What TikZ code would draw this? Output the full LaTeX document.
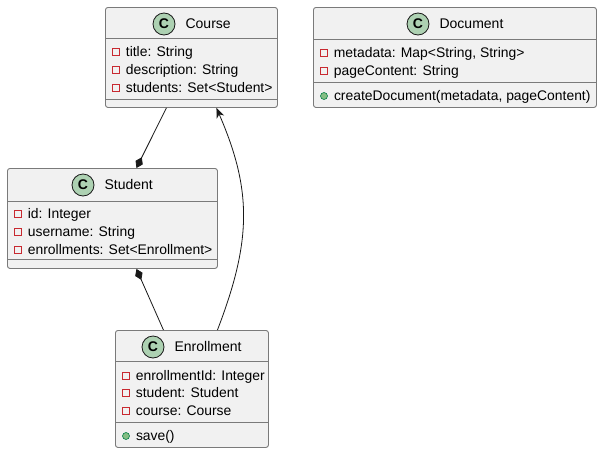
\documentclass[tikz,border=0pt]{standalone}
\usepackage{fontspec}
\setmainfont{Liberation Sans}
\usetikzlibrary{positioning,arrows.meta}
\definecolor{classbg}{HTML}{F1F1F1}
\definecolor{classline}{HTML}{7A7A7A}
\definecolor{spotfill}{HTML}{ADD1B2}
\definecolor{privred}{HTML}{C82930}
\definecolor{pubfill}{HTML}{84BE84}
\definecolor{publine}{HTML}{038048}
\definecolor{linkcol}{HTML}{181818}

\begin{document}
\begin{tikzpicture}[x=1pt, y=-1pt,
            classbox/.style={rectangle, draw=classline, fill=classbg, line width=0.9pt, rounded corners=2.5pt, anchor=north west, inner sep=0pt},
            sepline/.style={draw=classline, line width=0.9pt},
            spot/.style={circle, draw=linkcol, fill=spotfill, line width=0.8pt, minimum size=22pt, inner sep=0pt, font=\fontsize{14}{16}\selectfont\bfseries},
            classname/.style={right=10pt of #1, inner sep=0pt, text height=11pt, text depth=2pt, font=\fontsize{14}{16}\selectfont},
            priv/.style={rectangle, draw=privred, line width=0.9pt, minimum size=6.5pt, inner sep=0pt},
            pub/.style={circle, draw=publine, fill=pubfill, line width=0.6pt, minimum size=7pt, inner sep=0pt},
            attr/.style={right=6pt of #1, inner sep=0pt, text height=11pt, text depth=2pt, font=\fontsize{13.9}{16}\selectfont},
            link/.style={draw=linkcol, line width=0.8pt},
        ]
        \useasboundingbox (0,0) rectangle (602,453);

        % Course
        \node[classbox, minimum width=172pt, minimum height=100pt] (course) at (105,7) {};
        \draw[sepline] (105,38) -- (277,38);
        \draw[sepline] (105,99) -- (277,99);
        \node[spot] (coursespot) at (164,24) {C};
        \node[classname=coursespot] (coursename) {Course};
        \node[priv] (ctitleicon) at (116,52) {};
        \node[attr=ctitleicon] (ctitle) {title: String};
        \node[priv] (cdescicon) at (116,70) {};
        \node[attr=cdescicon] (cdesc) {description: String};
        \node[priv] (cstudicon) at (116,88) {};
        \node[attr=cstudicon] (cstud) {students: Set<Student>};

        % Document
        \node[classbox, minimum width=283pt, minimum height=100pt] (document) at (313,7) {};
        \draw[sepline] (313,39) -- (596,39);
        \draw[sepline] (313,82) -- (596,82);
        \node[spot] (docspot) at (418,24) {C};
        \node[classname=docspot] (docname) {Document};
        \node[priv] (dmetaicon) at (324,53) {};
        \node[attr=dmetaicon] (dmeta) {metadata: Map<String, String>};
        \node[priv] (dpageicon) at (324,71) {};
        \node[attr=dpageicon] (dpage) {pageContent: String};
        \node[pub] (dcreateicon) at (324,96) {};
        \node[attr=dcreateicon] (dcreate) {createDocument(metadata, pageContent)};

        % Student
        \node[classbox, minimum width=210pt, minimum height=100pt] (student) at (7,168) {};
        \draw[sepline] (7,201) -- (217,201);
        \draw[sepline] (7,259) -- (217,259);
        \node[spot] (studspot) at (83,185) {C};
        \node[classname=studspot] (studname) {Student};
        \node[priv] (sidicon) at (18,214) {};
        \node[attr=sidicon] (sid) {id: Integer};
        \node[priv] (suseicon) at (18,232) {};
        \node[attr=suseicon] (suse) {username: String};
        \node[priv] (senricon) at (18,250) {};
        \node[attr=senricon] (senr) {enrollments: Set<Enrollment>};

        % Enrollment
        \node[classbox, minimum width=153pt, minimum height=117pt] (enrollment) at (115,330) {};
        \draw[sepline] (115,361) -- (268,361);
        \draw[sepline] (115,422) -- (268,422);
        \node[spot] (enrspot) at (153,347) {C};
        \node[classname=enrspot] (enrname) {Enrollment};
        \node[priv] (eidicon) at (126,376) {};
        \node[attr=eidicon] (eid) {enrollmentId: Integer};
        \node[priv] (estudicon) at (126,393) {};
        \node[attr=estudicon] (estud) {student: Student};
        \node[priv] (ecourseicon) at (126,411) {};
        \node[attr=ecourseicon] (ecourse) {course: Course};
        \node[pub] (esaveicon) at (126,436) {};
        \node[attr=esaveicon] (esave) {save()};

        % links
        \draw[link, -{Diamond[length=12pt,width=8pt]}] ([xshift=-25pt]course.south) -- ([xshift=24pt]student.north);
        \draw[link, {Diamond[length=12pt,width=8pt]}-] ([xshift=24pt]student.south) -- ([xshift=-28.5pt]enrollment.north);
        \draw[link, -{Stealth[length=10pt,width=8pt,inset=3pt]}] ([xshift=25.5pt]enrollment.north) .. controls (252,240) and (252,190) .. ([xshift=25pt]course.south);

    \end{tikzpicture}
\end{document}
